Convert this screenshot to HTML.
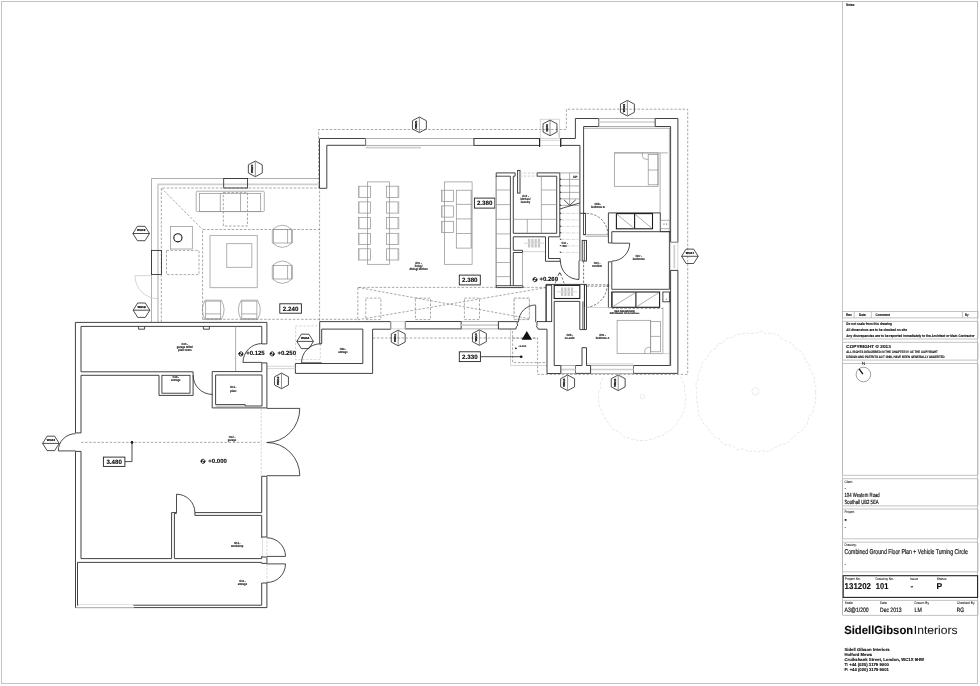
<!DOCTYPE html>
<html lang="en"><head><meta charset="utf-8"><title>Combined Ground Floor Plan + Vehicle Turning Circle</title>
<style>
html,body{margin:0;padding:0;background:#fff}
body{width:980px;height:686px;overflow:hidden;font-family:"Liberation Sans",Arial,sans-serif}
svg{display:block;will-change:transform;text-rendering:geometricPrecision;font-family:"Liberation Sans",Arial,sans-serif}
.fr{fill:none;stroke:#c2c2c2;stroke-width:1}
.tl{fill:none;stroke:#b4b4b4;stroke-width:.8}
.bk{fill:none;stroke:#222;stroke-width:1.1}
.nc{fill:none;stroke:#444;stroke-width:.5}
.na{stroke:#111;stroke-width:1.3}
.d{fill:none;stroke:#2c2c2c;stroke-width:.85}
.dk{fill:none;stroke:#1c1c1c;stroke-width:1.1}
.w{fill:#fff;stroke:#383838;stroke-width:.95;stroke-linejoin:miter}
.wcover{stroke:#fff;stroke-width:1.6}
.g{fill:none;stroke:#8e8e8e;stroke-width:.7}
.rug{fill:none;stroke:#b8b8b8;stroke-width:1.1}
.gm{fill:none;stroke:#707070;stroke-width:.8}
.gw{fill:#fff;stroke:#9c9c9c;stroke-width:.65}
.l{fill:none;stroke:#c0c0c0;stroke-width:.65}
.lt{fill:none;stroke:#cfcfcf;stroke-width:1.7}
.hatch2{stroke:#b0b0b0;stroke-width:1.5;stroke-dasharray:.5 .5}
.drn{fill:#c6c6c6;stroke:none}
.wcover2{stroke:#e8e8e8;stroke-width:.8}
.hatch{stroke:#c4c4c4;stroke-width:1.3}
.ds{fill:none;stroke:#6e6e6e;stroke-width:.6;stroke-dasharray:2.5 1.6}
.dsk{fill:none;stroke:#444;stroke-width:.7;stroke-dasharray:2.4 1.5}
.dsl{fill:none;stroke:#b5b5b5;stroke-width:.55;stroke-dasharray:2.4 1.5}
.dsl3{fill:none;stroke:#b8b8b8;stroke-width:.6;stroke-dasharray:3 .8 .8 .8}
.dsl2{fill:none;stroke:#c4c4c4;stroke-width:.9;stroke-dasharray:2.4 1.5}
.tree{fill:none;stroke:#dedede;stroke-width:.7;stroke-dasharray:3 1.6}
.treec{fill:none;stroke:#dedede;stroke-width:.6}
.hx{fill:none;stroke:#222;stroke-width:.8}
line.hx{fill:none}
.hm{stroke:#666;stroke-width:.7}
.lb{fill:#fff;stroke:#222;stroke-width:.9}
.fk{fill:#111;stroke:none}
.t{fill:#1a1a1a;stroke:#1a1a1a;stroke-width:.06}
.ts{fill:#111;stroke:#111;stroke-width:.18}
.tb{fill:#0a0a0a;font-weight:bold;stroke:#0a0a0a;stroke-width:.1}
.tr{fill:#111;font-weight:bold;stroke:#111;stroke-width:.12}
.th{fill:#000;font-weight:bold;stroke:#000;stroke-width:.2}
</style></head>
<body>
<svg width="980" height="686" viewBox="0 0 980 686">
<rect x="0" y="0" width="980" height="686" fill="#fff"/>
<rect class="fr" x="1.5" y="1.5" width="976" height="682"/>
<line class="tl" x1="842.5" y1="1.5" x2="842.5" y2="615.4"/>
<text class="tb" x="846.3" y="5.7" font-size="3.5" text-anchor="start" textLength="8.6" lengthAdjust="spacingAndGlyphs">Notes:</text>
<rect class="tl" x="842.5" y="311.4" width="135.5" height="6.5"/>
<line class="tl" x1="854.2" y1="311.4" x2="854.2" y2="317.9"/>
<line class="tl" x1="871.3" y1="311.4" x2="871.3" y2="317.9"/>
<line class="tl" x1="962.4" y1="311.4" x2="962.4" y2="317.9"/>
<text class="tb" x="846" y="315.9" font-size="3.5" text-anchor="start" textLength="5.9" lengthAdjust="spacingAndGlyphs">Rev</text>
<text class="tb" x="859.1" y="315.9" font-size="3.5" text-anchor="start" textLength="6.7" lengthAdjust="spacingAndGlyphs">Date</text>
<text class="tb" x="875.6" y="315.9" font-size="3.5" text-anchor="start" textLength="14.4" lengthAdjust="spacingAndGlyphs">Comment</text>
<text class="tb" x="965" y="315.9" font-size="3.5" text-anchor="start" textLength="3.6" lengthAdjust="spacingAndGlyphs">By</text>
<rect class="tl" x="842.5" y="321.4" width="135.5" height="17.6" rx="1"/>
<text class="tb" x="846.3" y="325" font-size="3.6" text-anchor="start" textLength="45.6" lengthAdjust="spacingAndGlyphs">Do not scale from this drawing</text>
<text class="tb" x="846.3" y="330.8" font-size="3.6" text-anchor="start" textLength="60.6" lengthAdjust="spacingAndGlyphs">All dimensions are to be checked on site</text>
<text class="tb" x="846.3" y="336.6" font-size="3.6" text-anchor="start" textLength="128.3" lengthAdjust="spacingAndGlyphs">Any discrepancies are to be reported immediately to the Architect or  Main Contractor</text>
<rect class="tl" x="842.5" y="342.3" width="135.5" height="17.8" rx="1"/>
<text class="tb" x="846.3" y="348.2" font-size="4.3" text-anchor="start" textLength="44.5" lengthAdjust="spacingAndGlyphs">COPYRIGHT ©   2013</text>
<text class="tb" x="846.3" y="353.4" font-size="3.4" text-anchor="start" textLength="91.5" lengthAdjust="spacingAndGlyphs">ALL RIGHTS DESCRIBED IN THE CHAPTER IV OF THE COPYRIGHT</text>
<text class="tb" x="846.3" y="357.7" font-size="3.4" text-anchor="start" textLength="98.4" lengthAdjust="spacingAndGlyphs">DESIGN AND PATENTS ACT 1988, HAVE BEEN GENERALLY ASSERTED</text>
<rect class="tl" x="842.5" y="363.5" width="135.5" height="111.8" rx="1"/>
<text class="t" x="863.4" y="365" font-size="4.8" text-anchor="middle">N</text>
<circle class="nc" cx="863.4" cy="374.5" r="7.3"/>
<line class="na" x1="859.1" y1="368.8" x2="862.9" y2="374.2"/>
<rect class="tl" x="842.5" y="478.7" width="135.5" height="27.2" rx="1"/>
<text class="t" x="844.5" y="482.7" font-size="3.5" text-anchor="start" textLength="8.4" lengthAdjust="spacingAndGlyphs">Client:</text>
<text class="ts" x="844.5" y="490.2" font-size="5" text-anchor="start">-</text>
<text class="ts" x="844.5" y="497.3" font-size="6" text-anchor="start" textLength="35.2" lengthAdjust="spacingAndGlyphs">104 Western Road</text>
<text class="ts" x="844.5" y="503.8" font-size="6" text-anchor="start" textLength="34.2" lengthAdjust="spacingAndGlyphs">Southall UB2 5EA</text>
<rect class="tl" x="842.5" y="509" width="135.5" height="29.8" rx="1"/>
<text class="t" x="844.5" y="512.9" font-size="3.5" text-anchor="start" textLength="10.3" lengthAdjust="spacingAndGlyphs">Project:</text>
<text class="t" x="844.5" y="521.3" font-size="3.6" text-anchor="start">■</text>
<text class="ts" x="844.5" y="529" font-size="5" text-anchor="start">-</text>
<rect class="tl" x="842.5" y="542.2" width="135.5" height="29.6" rx="1"/>
<text class="t" x="844.5" y="546.3" font-size="3.5" text-anchor="start" textLength="12.2" lengthAdjust="spacingAndGlyphs">Drawing:</text>
<text class="ts" x="844.5" y="554.2" font-size="7" text-anchor="start" textLength="123.3" lengthAdjust="spacingAndGlyphs">Combined Ground Floor Plan + Vehicle Turning Circle</text>
<text class="ts" x="844.5" y="566.4" font-size="5" text-anchor="start">-</text>
<rect class="bk" x="843.2" y="575.7" width="134.4" height="21.7"/>
<text class="t" x="844.8" y="579.5" font-size="3.5" text-anchor="start" textLength="15.8" lengthAdjust="spacingAndGlyphs">Project No.</text>
<text class="t" x="875.5" y="579.5" font-size="3.5" text-anchor="start" textLength="18.4" lengthAdjust="spacingAndGlyphs">Drawing No.</text>
<text class="t" x="910" y="579.5" font-size="3.5" text-anchor="start" textLength="8" lengthAdjust="spacingAndGlyphs">Issue</text>
<text class="t" x="936.8" y="579.5" font-size="3.5" text-anchor="start" textLength="9.8" lengthAdjust="spacingAndGlyphs">Status</text>
<text class="tb" x="844.6" y="588.9" font-size="8.5" text-anchor="start" textLength="26.4" lengthAdjust="spacingAndGlyphs">131202</text>
<text class="tb" x="875.8" y="588.9" font-size="8.5" text-anchor="start" textLength="12.5" lengthAdjust="spacingAndGlyphs">101</text>
<text class="tb" x="910.6" y="588.9" font-size="8.5" text-anchor="start">-</text>
<text class="tb" x="936.6" y="588.9" font-size="8.5" text-anchor="start">P</text>
<rect class="tl" x="842.5" y="600.4" width="135.5" height="15" rx="1"/>
<text class="t" x="844.8" y="604.4" font-size="3.5" text-anchor="start" textLength="8.1" lengthAdjust="spacingAndGlyphs">Scale</text>
<text class="t" x="880" y="604.4" font-size="3.5" text-anchor="start" textLength="6.9" lengthAdjust="spacingAndGlyphs">Date</text>
<text class="t" x="914.6" y="604.4" font-size="3.5" text-anchor="start" textLength="14.5" lengthAdjust="spacingAndGlyphs">Drawn By</text>
<text class="t" x="956.7" y="604.4" font-size="3.5" text-anchor="start" textLength="17.9" lengthAdjust="spacingAndGlyphs">Checked By</text>
<text class="ts" x="844.5" y="611.6" font-size="6.3" text-anchor="start" textLength="24.2" lengthAdjust="spacingAndGlyphs">A3@1/200</text>
<text class="ts" x="880" y="611.6" font-size="6.3" text-anchor="start" textLength="21.6" lengthAdjust="spacingAndGlyphs">Dec 2013</text>
<text class="ts" x="914.6" y="611.6" font-size="6.3" text-anchor="start" textLength="7.2" lengthAdjust="spacingAndGlyphs">LM</text>
<text class="ts" x="956.7" y="611.6" font-size="6.3" text-anchor="start" textLength="7.2" lengthAdjust="spacingAndGlyphs">RG</text>
<text class="tb" x="844.2" y="634.3" font-size="11.7" textLength="69" lengthAdjust="spacingAndGlyphs">SidellGibson</text>
<text class="t" x="913.8" y="634.3" font-size="11.7" textLength="43.7" lengthAdjust="spacingAndGlyphs">Interiors</text>
<text class="tb" x="844.5" y="650.8" font-size="4.25" text-anchor="start" textLength="45.2" lengthAdjust="spacingAndGlyphs">Sidell Gibson Interiors</text>
<text class="tb" x="844.5" y="655.9" font-size="4.25" text-anchor="start" textLength="27.5" lengthAdjust="spacingAndGlyphs">Holford Mews</text>
<text class="tb" x="844.5" y="661" font-size="4.25" text-anchor="start" textLength="79.6" lengthAdjust="spacingAndGlyphs">Cruikshank Street, London, WC1X 9HW</text>
<text class="tb" x="844.5" y="666.1" font-size="4.25" text-anchor="start" textLength="44.4" lengthAdjust="spacingAndGlyphs">T: +44 (020) 3179 9000</text>
<text class="tb" x="844.5" y="671.2" font-size="4.25" text-anchor="start" textLength="44.4" lengthAdjust="spacingAndGlyphs">F: +44 (020) 3179 9001</text>
<polyline class="tree" points="680.27,376.72 682.13,379.16 682.94,382.08 684.31,384.81 685.09,387.75 684.53,390.89 684.74,393.85 686.45,396.8 685.22,399.79 684.86,402.75 685.79,406 684.06,408.72 683.8,411.83 682.01,414.39 680.96,417.25 678.63,419.38 677.74,422.4 676.21,425.09 673.67,426.9 671.78,429.32 669.36,431.18 666.23,431.98 664.4,434.73 661.56,435.87 658.57,436.58 655.59,437.1 653.15,439.5 650.01,439.38 647.07,440.28 644.04,440.8 640.97,440.48 637.89,440.67 635.02,439.23 631.88,439.38 629.16,437.87 625.96,437.73 623.2,436.38 621.25,433.61 618.69,432.1 616.19,430.48 612.92,429.65 611.45,426.79 609.15,424.79 607.79,422.02 605.77,419.75 604.47,417.02 603.22,414.29 601.66,411.66 600.73,408.78 599.38,405.96 599.28,402.87 598.48,399.88 598.51,396.8 598.36,393.71 599.3,390.73 600.8,387.94 600.21,384.67 600.97,381.68 602.23,378.87 604.16,376.41"/>
<circle class="treec" cx="642.5" cy="396.4" r="2.3"/>
<polyline class="tree" points="815.58,391.9 815.76,396.12 815.46,400.34 815.11,404.59 813.55,408.58 812.71,412.76 808.91,415.73 808.16,419.95 807.17,424.25 804.15,427.32 802.08,431.07 797.7,432.75 795.39,436.32 791.83,438.52 788.93,441.62 785.42,443.9 781.06,444.51 777.53,446.68 773.71,448.25 770.15,451.06 765.92,451.55 761.56,450.51 757.52,452.52 753.35,450.74 749.11,451.74 745.18,449.85 741.25,448.67 736.6,449.77 733.27,446.66 729.5,445 724.82,444.86 721.37,442.35 718.9,438.61 714.52,437.3 712.27,433.55 709.18,430.68 707.63,426.61 703.63,424.25 702.1,420.24 699.57,416.76 698.16,412.73 698.39,408.25 697.22,404.27 697.03,400.1 696.65,396.01 696.72,391.9 696.23,387.76 695.86,383.53 698.17,379.74 697.41,375.27 699.57,371.58 701.19,367.77 701.8,363.4 704.69,360.21 707.38,357.01 709.59,353.46 711.95,349.94 716.15,348.31 717.76,343.73 722.65,343.35 725.14,339.48 728.76,337.27 733.47,337.61 736.67,334.24 741.01,334.18 744.97,332.75 749.28,333.7 753.35,333.31 757.46,332.95 761.78,331.16 765.65,333.77 770.05,333.16 774.25,333.88 778.27,335.3 781.45,338.48 785.13,340.41 788.9,342.23 792.71,344.15 794.74,348.21 798.93,349.86 801.86,352.91 804.61,356.15 805.09,360.85 809.31,363.24 809.07,368.01 811.24,371.58 813.22,375.32 815.05,379.22 814.24,383.63 816.25,387.65 815.37,391.9"/>
<circle class="treec" cx="755.5" cy="391.3" r="3.6"/>
<polyline class="ds" points="318.6,188 318.6,129.5 566.4,129.5 566.4,109.2 687.7,109.2 687.7,374.4 537.6,374.4 537.6,338 372.4,338"/>
<polyline class="ds" points="161.3,322 161.3,188 319.6,188 319.6,322"/>
<line class="ds" x1="202.6" y1="319.3" x2="357.8" y2="319.3"/>
<line class="ds" x1="161.3" y1="188" x2="202.6" y2="229.5"/>
<polyline class="ds" points="202.6,319.3 202.6,229.5 319.6,229.5"/>
<rect class="ds" x="223.3" y="192.4" width="24.2" height="33.6"/>
<rect class="ds" x="166.5" y="250.4" width="32.5" height="24.2"/>
<polyline class="ds" points="546,287.4 357.8,287.4 357.8,320.5"/>
<line class="ds" x1="357.8" y1="287.4" x2="529" y2="318.6"/>
<line class="ds" x1="357.8" y1="319.8" x2="546" y2="287.6"/>
<rect class="ds" x="365.8" y="298.1" width="15.1" height="21.5"/>
<rect class="ds" x="415.4" y="298.1" width="15.1" height="21.5"/>
<rect class="ds" x="464.4" y="298.1" width="15.1" height="21.5"/>
<rect class="ds" x="514.2" y="298.1" width="15.1" height="21.5"/>
<rect class="dsl" x="295.6" y="325.9" width="24.7" height="33.7"/>
<rect class="dsl" x="513.7" y="298.4" width="15.9" height="20.8"/>
<polyline class="l" points="510.5,329.6 510.5,365.5 547,365.5"/>
<polyline class="ds" points="512.6,331 512.6,362.6 547,362.6"/>
<polyline class="ds" points="512.6,338.1 537.6,338.1"/>
<polyline class="g" points="151.5,322.4 151.5,178.5 319.5,178.5"/>
<polyline class="lt" points="158,322.4 158,184.3 319.5,184.3"/>
<rect class="d" x="223.7" y="178.5" width="23.9" height="9.5"/>
<rect class="d" x="151.5" y="250.4" width="10" height="24.1"/>
<line class="l" x1="135" y1="275.7" x2="151.5" y2="275.7"/>
<path class="l" d="M135 275.7A23 23 0 0 0 158 298.7"/>
<rect class="g" x="196.2" y="191.2" width="68.1" height="20.4" rx="1"/>
<rect class="g" x="199.5" y="193.4" width="61.2" height="18.2"/>
<line class="g" x1="220.3" y1="193.4" x2="220.3" y2="211.6"/>
<line class="g" x1="240.5" y1="193.4" x2="240.5" y2="211.6"/>
<rect class="g" x="170.5" y="226.6" width="21.8" height="22.4"/>
<circle class="dk" cx="177.9" cy="237.8" r="4.1"/>
<rect class="rug" x="210" y="235.5" width="47.3" height="52.1"/>
<rect class="rug" x="226.7" y="243.6" width="25.1" height="23.8"/>
<path class="g" d="M272.3 242.8L272.3 229.8Q282.35 220.6 292.4 229.8L292.4 242.8Q282.35 252 272.3 242.8Z"/>
<rect class="g" x="273.3" y="229.6" width="14.4" height="13.4"/>
<line class="g" x1="291.5" y1="229.6" x2="291.5" y2="243"/>
<line class="g" x1="287.7" y1="229.6" x2="291.5" y2="229.6"/>
<line class="g" x1="287.7" y1="243" x2="291.5" y2="243"/>
<path class="g" d="M272.3 278.8L272.3 265.6Q282.35 256.4 292.4 265.6L292.4 278.8Q282.35 288 272.3 278.8Z"/>
<rect class="g" x="273.3" y="265.4" width="14.4" height="13.6"/>
<line class="g" x1="291.5" y1="265.4" x2="291.5" y2="279"/>
<line class="g" x1="287.7" y1="265.4" x2="291.5" y2="265.4"/>
<line class="g" x1="287.7" y1="279" x2="291.5" y2="279"/>
<path class="g" d="M205.1 300.2L221.3 300.2Q226.9 309.9 221.3 319.6L205.1 319.6Q199.5 309.9 205.1 300.2Z"/>
<rect class="g" x="205.7" y="301.1" width="15" height="17.6"/>
<line class="g" x1="205.7" y1="313.9" x2="220.7" y2="313.9"/>
<path class="g" d="M241.2 300.2L257.5 300.2Q263.1 309.9 257.5 319.6L241.2 319.6Q235.6 309.9 241.2 300.2Z"/>
<rect class="g" x="241.8" y="301.1" width="15.1" height="17.6"/>
<line class="g" x1="241.8" y1="313.9" x2="256.9" y2="313.9"/>
<rect class="lb" x="279.8" y="303.8" width="21.6" height="9.4"/>
<text class="tb" x="290.6" y="310.73" font-size="6.2" text-anchor="middle">2.240</text>
<polygon class="hx" points="132.9,233.5 137.4,226.3 145,226.3 149.5,233.5 145,240.7 137.4,240.7"/>
<line class="hx" x1="132.9" y1="233.5" x2="149.5" y2="233.5"/>
<text class="th" x="141.2" y="231.4" font-size="2.9" text-anchor="middle">WG19</text>
<polygon class="hx" points="133.2,310.2 137.7,303 145.3,303 149.8,310.2 145.3,317.4 137.7,317.4"/>
<line class="hx" x1="133.2" y1="310.2" x2="149.8" y2="310.2"/>
<text class="th" x="141.5" y="308.1" font-size="2.9" text-anchor="middle">WG18</text>
<polygon class="hx" points="255.3,161.1 262.25,164.8 262.25,173 255.3,176.7 248.35,173 248.35,164.8"/>
<line class="hm" x1="255.3" y1="161.5" x2="255.3" y2="176.3"/>
<text class="th" x="253.3" y="168.9" font-size="2.9" text-anchor="middle" transform="rotate(-90 253.2 168.9)">WG20</text>
<polygon class="w" points="319.5,138.5 365.6,138.5 365.6,145.3 326.8,145.3 326.8,188.3 319.5,188.3"/>
<rect class="g" x="365.6" y="138.5" width="108.4" height="6.8"/>
<line class="lt" x1="365.6" y1="147.6" x2="421" y2="147.6"/>
<rect class="w" x="474" y="138.5" width="65.6" height="6.9"/>
<polygon class="w" points="560.7,138.5 575.4,138.5 575.4,118.5 598.7,118.5 598.7,126.5 583.6,126.5 583.6,213.3 579.9,213.3 579.9,145.4 560.7,145.4"/>
<rect class="l" x="540.2" y="119.2" width="19.2" height="19.2"/>
<line class="l" x1="556.9" y1="127" x2="559.4" y2="138.4"/>
<rect class="l" x="539.6" y="140.2" width="21.1" height="5.1"/>
<line class="dk" x1="539.6" y1="138.4" x2="539.6" y2="147"/>
<line class="dk" x1="560.7" y1="138.4" x2="560.7" y2="147"/>
<rect class="g" x="598.7" y="118.5" width="56.5" height="8"/>
<line class="lt" x1="598.7" y1="122" x2="655.2" y2="122"/>
<line class="g" x1="583.6" y1="128.3" x2="670.5" y2="128.3"/>
<polygon class="w" points="655.2,118.5 677.9,118.5 677.9,242.3 670.6,242.3 670.6,126.5 655.2,126.5"/>
<line class="g" x1="669.4" y1="128.3" x2="669.4" y2="231.5"/>
<rect class="l" x="670.6" y="242.3" width="7.3" height="28.1"/>
<line class="lt" x1="674.3" y1="245" x2="674.3" y2="268"/>
<polygon class="w" points="670.6,270.4 677.9,270.4 677.9,373.4 633.5,373.4 633.5,365.5 670.6,365.5"/>
<line class="g" x1="669.4" y1="292" x2="669.4" y2="365.5"/>
<rect class="g" x="590.6" y="365.5" width="42.9" height="7.9"/>
<line class="lt" x1="590.6" y1="369.5" x2="633.5" y2="369.5"/>
<line class="l" x1="586.5" y1="363.8" x2="633.5" y2="363.8"/>
<polygon class="w" points="575.5,365.5 582,365.5 582,347.7 586.5,347.7 586.5,365.5 590.6,365.5 590.6,373.4 575.5,373.4"/>
<rect class="g" x="560.8" y="365.5" width="14.7" height="7.9"/>
<line class="lt" x1="560.8" y1="369.5" x2="575.5" y2="369.5"/>
<polygon class="w" points="537,321.6 546.1,321.6 546.1,284.4 586.5,284.4 586.5,329.6 579.8,329.6 579.8,301.4 554.2,301.4 554.2,365.5 560.8,365.5 560.8,373.5 547,373.5 547,329.2 538.2,329.2 537.6,327.5 536.4,326.8 537,325.4"/>
<rect class="d" x="546.1" y="285.2" width="5.6" height="36.4"/>
<rect class="dk" x="554.2" y="285.4" width="25.6" height="13.1"/>
<line class="d" x1="582.9" y1="301.4" x2="582.9" y2="329.6"/>
<line class="d" x1="584.5" y1="285" x2="584.5" y2="329.6"/>
<line class="l" x1="557" y1="291.8" x2="577" y2="291.8"/>
<rect class="drn" x="561" y="287.5" width="2.2" height="8.6"/>
<rect class="drn" x="564.3" y="287.5" width="2.2" height="8.6"/>
<rect class="drn" x="567.6" y="287.5" width="2.2" height="8.6"/>
<rect class="drn" x="570.9" y="287.5" width="2.2" height="8.6"/>
<line class="wcover2" x1="560.8" y1="291.8" x2="573.4" y2="291.8"/>
<line class="l" x1="524" y1="243.2" x2="544" y2="243.2"/>
<rect class="drn" x="528" y="238.9" width="2.2" height="8.6"/>
<rect class="drn" x="531.3" y="238.9" width="2.2" height="8.6"/>
<rect class="drn" x="534.6" y="238.9" width="2.2" height="8.6"/>
<rect class="drn" x="537.9" y="238.9" width="2.2" height="8.6"/>
<line class="wcover2" x1="527.8" y1="243.2" x2="540.4" y2="243.2"/>
<line class="l" x1="522.9" y1="251.6" x2="545.5" y2="251.6"/>
<rect class="w" x="405.3" y="321.5" width="55.9" height="7.4"/>
<rect class="g" x="461.2" y="321.6" width="37.2" height="7.3"/>
<line class="lt" x1="461.2" y1="325.2" x2="498.4" y2="325.2"/>
<polygon class="w" points="498.4,321.6 517.6,321.6 516.9,323.8 518,325 516.5,326.6 515.8,329 498.4,329"/>
<line class="d" x1="535.7" y1="305.3" x2="535.7" y2="322.2"/>
<path class="d" d="M535.7 305A17.2 17.2 0 0 0 518.5 322.2"/>
<polygon class="w" points="319.7,321.6 390.7,321.6 390.7,329.2 372.6,329.2 372.6,373.4 295.4,373.4 295.4,363.5 362.8,363.5 362.8,329.1 321.7,329.1 321.7,343.8 319.7,343.8"/>
<text class="tr" font-size="3" text-anchor="middle" transform="translate(342.9 349.6) scale(.87 1)">G04 -</text>
<text class="tr" font-size="3" text-anchor="middle" transform="translate(342.9 352.8) scale(.87 1)">storage</text>
<rect class="l" x="390.8" y="321.6" width="14.5" height="7.3"/>
<line class="d" x1="301.5" y1="362.8" x2="321.7" y2="362.8"/>
<path class="d" d="M301.5 362.8A19 19 0 0 1 320.5 343.8"/>
<line class="l" x1="267.1" y1="366.3" x2="295.6" y2="366.3"/>
<line class="l" x1="267.1" y1="368.6" x2="295.6" y2="368.6"/>
<polygon class="hx" points="296.8,341.4 301.3,334.2 308.9,334.2 313.4,341.4 308.9,348.6 301.3,348.6"/>
<line class="hx" x1="296.8" y1="341.4" x2="313.4" y2="341.4"/>
<text class="th" x="305.1" y="339.3" font-size="2.9" text-anchor="middle">WG14</text>
<polygon class="hx" points="281.5,373.1 288.45,376.8 288.45,385 281.5,388.7 274.55,385 274.55,376.8"/>
<line class="hm" x1="281.5" y1="373.5" x2="281.5" y2="388.3"/>
<text class="th" x="279.5" y="380.9" font-size="2.9" text-anchor="middle" transform="rotate(-90 279.4 380.9)">WG13</text>
<polygon class="hx" points="398.2,330.2 405.15,333.9 405.15,342.1 398.2,345.8 391.25,342.1 391.25,333.9"/>
<line class="hm" x1="398.2" y1="330.6" x2="398.2" y2="345.4"/>
<text class="th" x="396.2" y="338" font-size="2.9" text-anchor="middle" transform="rotate(-90 396.1 338)">WG11</text>
<polygon class="hx" points="479.4,329.8 486.35,333.5 486.35,341.7 479.4,345.4 472.45,341.7 472.45,333.5"/>
<line class="hm" x1="479.4" y1="330.2" x2="479.4" y2="345"/>
<text class="th" x="477.4" y="337.6" font-size="2.9" text-anchor="middle" transform="rotate(-90 477.3 337.6)">WG10</text>
<polygon class="hx" points="419.4,117 426.35,120.7 426.35,128.9 419.4,132.6 412.45,128.9 412.45,120.7"/>
<line class="hm" x1="419.4" y1="117.4" x2="419.4" y2="132.2"/>
<text class="th" x="417.4" y="124.8" font-size="2.9" text-anchor="middle" transform="rotate(-90 417.3 124.8)">WG21</text>
<polygon class="hx" points="550,120.1 556.95,123.8 556.95,132 550,135.7 543.05,132 543.05,123.8"/>
<line class="hm" x1="550" y1="120.5" x2="550" y2="135.3"/>
<text class="th" x="548" y="127.9" font-size="2.9" text-anchor="middle" transform="rotate(-90 547.9 127.9)">DG03</text>
<polygon class="hx" points="627.4,100.4 634.35,104.1 634.35,112.3 627.4,116 620.45,112.3 620.45,104.1"/>
<line class="hm" x1="627.4" y1="100.8" x2="627.4" y2="115.6"/>
<text class="th" x="625.4" y="108.2" font-size="2.9" text-anchor="middle" transform="rotate(-90 625.3 108.2)">WG22</text>
<polygon class="hx" points="681.6,256.3 686.1,249.1 693.7,249.1 698.2,256.3 693.7,263.5 686.1,263.5"/>
<line class="hx" x1="681.6" y1="256.3" x2="698.2" y2="256.3"/>
<text class="th" x="689.9" y="254.2" font-size="2.9" text-anchor="middle">WG17</text>
<polygon class="hx" points="618.2,375 625.15,378.7 625.15,386.9 618.2,390.6 611.25,386.9 611.25,378.7"/>
<line class="hm" x1="618.2" y1="375.4" x2="618.2" y2="390.2"/>
<text class="th" x="616.2" y="382.8" font-size="2.9" text-anchor="middle" transform="rotate(-90 616.1 382.8)">WG16</text>
<polygon class="hx" points="567.6,375 574.55,378.7 574.55,386.9 567.6,390.6 560.65,386.9 560.65,378.7"/>
<line class="hm" x1="567.6" y1="375.4" x2="567.6" y2="390.2"/>
<text class="th" x="565.6" y="382.8" font-size="2.9" text-anchor="middle" transform="rotate(-90 565.5 382.8)">WG15</text>
<rect class="lb" x="474.4" y="198.1" width="20.5" height="10"/>
<text class="tb" x="484.65" y="205.33" font-size="6.2" text-anchor="middle">2.380</text>
<rect class="lb" x="459.3" y="275.1" width="21" height="9.8"/>
<text class="tb" x="469.8" y="282.23" font-size="6.2" text-anchor="middle">2.380</text>
<rect class="lb" x="459.3" y="351.8" width="21.1" height="9.8"/>
<text class="tb" x="469.85" y="358.93" font-size="6.2" text-anchor="middle">2.330</text>
<line class="d" x1="480.4" y1="356.7" x2="521.2" y2="356.7"/>
<circle class="fk" cx="521.2" cy="356.7" r="1.3"/>
<circle class="fk" cx="515.9" cy="348.3" r="0.9"/>
<text class="tb" x="518.2" y="346.8" font-size="2.6" text-anchor="start">+0.150</text>
<path class="fk" d="M526.8 331L521.6 339.7L532 339.7Z"/>
<rect class="g" x="367.4" y="181.9" width="22.1" height="82.4"/>
<rect class="g" x="358.4" y="186.2" width="12" height="11.2"/>
<line class="hatch2" x1="359.3" y1="186.2" x2="359.3" y2="197.4"/>
<rect class="g" x="386.5" y="186.2" width="12.3" height="11.2"/>
<line class="hatch2" x1="397.9" y1="186.2" x2="397.9" y2="197.4"/>
<rect class="g" x="358.4" y="201.9" width="12" height="11.2"/>
<line class="hatch2" x1="359.3" y1="201.9" x2="359.3" y2="213.1"/>
<rect class="g" x="386.5" y="201.9" width="12.3" height="11.2"/>
<line class="hatch2" x1="397.9" y1="201.9" x2="397.9" y2="213.1"/>
<rect class="g" x="358.4" y="217.6" width="12" height="11.2"/>
<line class="hatch2" x1="359.3" y1="217.6" x2="359.3" y2="228.8"/>
<rect class="g" x="386.5" y="217.6" width="12.3" height="11.2"/>
<line class="hatch2" x1="397.9" y1="217.6" x2="397.9" y2="228.8"/>
<rect class="g" x="358.4" y="233.3" width="12" height="11.2"/>
<line class="hatch2" x1="359.3" y1="233.3" x2="359.3" y2="244.5"/>
<rect class="g" x="386.5" y="233.3" width="12.3" height="11.2"/>
<line class="hatch2" x1="397.9" y1="233.3" x2="397.9" y2="244.5"/>
<rect class="g" x="358.4" y="248.8" width="12" height="11.2"/>
<line class="hatch2" x1="359.3" y1="248.8" x2="359.3" y2="260"/>
<rect class="g" x="386.5" y="248.8" width="12.3" height="11.2"/>
<line class="hatch2" x1="397.9" y1="248.8" x2="397.9" y2="260"/>
<rect class="g" x="444.4" y="181.9" width="27.7" height="82.4"/>
<rect class="g" x="441.5" y="190.2" width="12" height="11.2"/>
<line class="hatch2" x1="442.4" y1="190.2" x2="442.4" y2="201.4"/>
<rect class="g" x="441.5" y="205.9" width="12" height="11.2"/>
<line class="hatch2" x1="442.4" y1="205.9" x2="442.4" y2="217.1"/>
<rect class="g" x="441.5" y="221.3" width="12" height="11.2"/>
<line class="hatch2" x1="442.4" y1="221.3" x2="442.4" y2="232.5"/>
<rect class="g" x="456.3" y="190.2" width="15" height="57.9"/>
<line class="hatch2" x1="471.1" y1="190.2" x2="471.1" y2="248.1"/>
<line class="g" x1="456.3" y1="204.4" x2="471.3" y2="204.4"/>
<line class="g" x1="456.3" y1="218.9" x2="471.3" y2="218.9"/>
<line class="g" x1="456.3" y1="233.5" x2="471.3" y2="233.5"/>
<text class="tr" font-size="3" text-anchor="middle" transform="translate(418.6 264) scale(.87 1)">G01 -</text>
<text class="tr" font-size="3" text-anchor="middle" transform="translate(418.6 267.2) scale(.87 1)">living/</text>
<text class="tr" font-size="3" text-anchor="middle" transform="translate(418.6 270.4) scale(.87 1)">dining/ kitchen</text>
<polygon class="w" points="496.2,172.9 515.1,172.9 515.1,176.2 513.3,176.2 513.3,233.3 556.7,233.3 556.7,176.2 537.1,176.2 537.1,172.9 559.8,172.9 559.8,236.8 548.5,236.8 548.5,258.5 560.2,258.5 560.2,261.3 545.5,261.3 545.5,236.8 513.3,236.8 513.3,250.3 522.5,250.3 522.5,252.5 513.3,252.5 513.3,285.7 522.9,285.7 522.9,287.6 496.2,287.6"/>
<line class="wcover" x1="496.2" y1="177" x2="496.2" y2="285"/>
<line class="gm" x1="496.2" y1="176.2" x2="496.2" y2="285.7"/>
<line class="d" x1="510.4" y1="176.2" x2="510.4" y2="285.7"/>
<line class="d" x1="496.2" y1="176.2" x2="510.4" y2="176.2"/>
<line class="d" x1="496.2" y1="285.7" x2="513.3" y2="285.7"/>
<line class="g" x1="496.2" y1="190" x2="510.4" y2="190"/>
<line class="g" x1="496.2" y1="204.6" x2="510.4" y2="204.6"/>
<line class="g" x1="496.2" y1="219.3" x2="510.4" y2="219.3"/>
<line class="g" x1="496.2" y1="233.9" x2="510.4" y2="233.9"/>
<line class="g" x1="496.2" y1="248.4" x2="510.4" y2="248.4"/>
<line class="g" x1="496.2" y1="262.5" x2="510.4" y2="262.5"/>
<line class="g" x1="496.2" y1="276.6" x2="510.4" y2="276.6"/>
<line class="g" x1="522.5" y1="252.5" x2="522.5" y2="285.7"/>
<rect class="w" x="517.6" y="170.4" width="2.4" height="22.7"/>
<line class="dsl2" x1="520" y1="173" x2="537.1" y2="173"/>
<line class="dsl2" x1="520" y1="176.1" x2="537.1" y2="176.1"/>
<line class="g" x1="541.4" y1="176.2" x2="541.4" y2="233.3"/>
<line class="g" x1="541.4" y1="190" x2="556.7" y2="190"/>
<line class="g" x1="541.4" y1="204.6" x2="556.7" y2="204.6"/>
<line class="g" x1="541.4" y1="219.3" x2="556.7" y2="219.3"/>
<line class="g" x1="513.3" y1="219.3" x2="541.4" y2="219.3"/>
<line class="g" x1="527.3" y1="219.3" x2="527.3" y2="233.3"/>
<text class="tr" font-size="3" text-anchor="middle" transform="translate(525.5 196.5) scale(.87 1)">G12 -</text>
<text class="tr" font-size="3" text-anchor="middle" transform="translate(525.5 199.7) scale(.87 1)">kitchen/</text>
<text class="tr" font-size="3" text-anchor="middle" transform="translate(525.5 202.9) scale(.87 1)">laundry</text>
<line class="g" x1="559.8" y1="172.9" x2="579.9" y2="172.9"/>
<line class="g" x1="559.8" y1="179.4" x2="579.9" y2="179.4"/>
<line class="g" x1="559.8" y1="185.9" x2="579.9" y2="185.9"/>
<line class="g" x1="559.8" y1="192.4" x2="579.9" y2="192.4"/>
<line class="g" x1="559.8" y1="198.9" x2="579.9" y2="198.9"/>
<line class="g" x1="559.8" y1="205.4" x2="579.9" y2="205.4"/>
<line class="dsl3" x1="561" y1="213.4" x2="578.5" y2="213.4"/>
<line class="dsl3" x1="561" y1="219.9" x2="578.5" y2="219.9"/>
<line class="dsl3" x1="561" y1="226.4" x2="578.5" y2="226.4"/>
<line class="dsl3" x1="561" y1="232.9" x2="578.5" y2="232.9"/>
<line class="dsl3" x1="561" y1="239.4" x2="578.5" y2="239.4"/>
<line class="dsl3" x1="561" y1="245.9" x2="578.5" y2="245.9"/>
<line class="dsl3" x1="561" y1="252.4" x2="578.5" y2="252.4"/>
<line class="g" x1="569.6" y1="172.9" x2="569.6" y2="205.3"/>
<path class="fk" d="M559.9 178.3l1.6 1.1l-1.6 .3z"/>
<path class="fk" d="M559.9 184.8l1.6 1.1l-1.6 .3z"/>
<path class="fk" d="M559.9 191.3l1.6 1.1l-1.6 .3z"/>
<path class="fk" d="M559.9 197.8l1.6 1.1l-1.6 .3z"/>
<path class="fk" d="M559.9 204.3l1.6 1.1l-1.6 .3z"/>
<path class="fk" d="M559.9 212.3l1.6 1.1l-1.6 .3z"/>
<path class="fk" d="M559.9 218.8l1.6 1.1l-1.6 .3z"/>
<path class="fk" d="M559.9 225.3l1.6 1.1l-1.6 .3z"/>
<path class="fk" d="M559.9 231.8l1.6 1.1l-1.6 .3z"/>
<path class="fk" d="M559.9 238.3l1.6 1.1l-1.6 .3z"/>
<path class="fk" d="M559.9 244.8l1.6 1.1l-1.6 .3z"/>
<path class="fk" d="M559.9 251.3l1.6 1.1l-1.6 .3z"/>
<line class="d" x1="559.8" y1="209" x2="579.9" y2="202.9"/>
<polyline class="d" points="564.1,199.8 569.7,205.4 575.7,199.8"/>
<text class="tr" x="575.2" y="177.8" font-size="3.2" text-anchor="middle">UP</text>
<text class="tr" font-size="3" text-anchor="middle" transform="translate(564.6 243.6) scale(.87 1)">G11 -</text>
<text class="tr" font-size="3" text-anchor="middle" transform="translate(564.6 246.8) scale(.87 1)">WC</text>
<line class="d" x1="579" y1="260.6" x2="579" y2="279.4"/>
<path class="d" d="M560.4 260.9A18.6 18.6 0 0 0 579 279.5"/>
<rect class="w" x="582.2" y="240.4" width="4.3" height="20.6"/>
<line class="d" x1="584.3" y1="240.4" x2="584.3" y2="261"/>
<line class="d" x1="579.9" y1="213.3" x2="579.9" y2="261"/>
<line class="dsk" x1="583.6" y1="261" x2="583.6" y2="284.4"/>
<line class="dsk" x1="583.6" y1="284.9" x2="611" y2="284.9"/>
<line class="ds" x1="586.5" y1="286.4" x2="611" y2="286.4"/>
<g transform="rotate(-25 535 279.6)">
<circle class="hx" cx="535" cy="279.6" r="2.1"/>
<path class="fk" d="M535 279.6L535 277.5A2.1 2.1 0 0 0 532.9 279.6Z M535 279.6L535 281.7A2.1 2.1 0 0 0 537.1 279.6Z"/>
</g>
<text class="tb" x="539.5" y="280.8" font-size="6" text-anchor="start">+0.260</text>
<polyline class="d" points="558.6,274.6 559.7,272.6 560.8,274.6"/>
<line class="dsk" x1="560.6" y1="273.7" x2="564.3" y2="283.8"/>
<line class="dsk" x1="558.8" y1="273.7" x2="555.1" y2="283.8"/>
<rect class="g" x="614.4" y="152.9" width="43.6" height="33.4"/>
<rect class="g" x="648.2" y="154.4" width="9.8" height="30.4"/>
<line class="g" x1="648.2" y1="170" x2="658" y2="170"/>
<path class="g" d="M642.4 152.9L642.4 156.5Q643 159.4 648.2 159.4"/>
<polyline class="g" points="614.4,152.9 667.8,152.9"/>
<line class="g" x1="660.1" y1="152.9" x2="660.1" y2="212.9"/>
<text class="tr" font-size="3" text-anchor="middle" transform="translate(597.8 204.6) scale(.87 1)">G08 -</text>
<text class="tr" font-size="3" text-anchor="middle" transform="translate(597.8 207.8) scale(.87 1)">bedroom B</text>
<rect class="d" x="583.6" y="213.3" width="1.9" height="21.4"/>
<path class="dsk" d="M586.6 213.4A21.3 21.3 0 0 1 607.9 234.7"/>
<line class="g" x1="585.5" y1="234.7" x2="609" y2="234.7"/>
<line class="g" x1="585.5" y1="236.3" x2="609" y2="236.3"/>
<polygon class="w" points="608.4,212.9 660.3,212.9 660.3,231.6 670.6,231.6 670.6,231.7 611.8,231.7 611.8,242.9 608.4,242.9"/>
<rect class="dk" x="616.4" y="213.6" width="36.1" height="15.2"/>
<line class="dk" x1="634.6" y1="213.6" x2="634.6" y2="228.8"/>
<line class="g" x1="616.8" y1="214.2" x2="634" y2="228.4"/>
<line class="g" x1="635" y1="214.2" x2="652" y2="228.4"/>
<rect class="g" x="660.7" y="220.2" width="9.2" height="8.6"/>
<circle class="fk" cx="664" cy="224" r="0.5"/>
<circle class="fk" cx="666.6" cy="224" r="0.5"/>
<line class="d" x1="611.8" y1="243.2" x2="629.6" y2="243.2"/>
<path class="d" d="M629.7 243.2A17.9 17.9 0 0 1 611.8 261.1"/>
<polyline class="d" points="608.4,261.8 611.8,261.8 611.8,289.3 669.4,289.3"/>
<polyline class="d" points="608.4,261.8 608.4,307.6 611.8,307.6 611.8,292"/>
<line class="d" x1="669.4" y1="231.7" x2="669.4" y2="289.3"/>
<text class="tr" font-size="3" text-anchor="middle" transform="translate(638.8 256.6) scale(.87 1)">G07 -</text>
<text class="tr" font-size="3" text-anchor="middle" transform="translate(638.8 259.8) scale(.87 1)">bathroom</text>
<text class="tr" font-size="3" text-anchor="middle" transform="translate(597 263.7) scale(.87 1)">G10 -</text>
<text class="tr" font-size="3" text-anchor="middle" transform="translate(597 266.9) scale(.87 1)">corridor</text>
<rect class="dk" x="611.9" y="292" width="47.7" height="15.3"/>
<line class="dk" x1="635.9" y1="292" x2="635.9" y2="307.3"/>
<line class="g" x1="612.5" y1="306.8" x2="635.3" y2="292.6"/>
<line class="g" x1="636.5" y1="306.8" x2="659" y2="292.6"/>
<rect class="d" x="662.9" y="292" width="6.8" height="9.8"/>
<text class="t" x="666.3" y="300.4" font-size="2.6" text-anchor="middle">+</text>
<line class="ds" x1="612" y1="308.5" x2="662.9" y2="308.5"/>
<text class="tb" x="624.6" y="311.5" font-size="2.3" text-anchor="middle">F&amp;B DRAWDOWN/</text>
<text class="tb" x="624.6" y="314.1" font-size="2.3" text-anchor="middle">BECKMANN 2000x1800mm</text>
<rect class="g" x="617.1" y="320.3" width="33.6" height="33.3"/>
<rect class="g" x="650.7" y="321.6" width="9.7" height="30.2"/>
<line class="g" x1="650.7" y1="336.4" x2="660.4" y2="336.4"/>
<path class="g" d="M644.8 353.6L644.8 350.2Q645.6 347.2 650.7 347.2"/>
<polyline class="g" points="662.9,307.3 662.9,353.6 650.7,353.6"/>
<line class="l" x1="662.9" y1="353.6" x2="669.4" y2="353.6"/>
<text class="tr" font-size="3" text-anchor="middle" transform="translate(602.5 335.8) scale(.87 1)">G05 -</text>
<text class="tr" font-size="3" text-anchor="middle" transform="translate(602.5 339) scale(.87 1)">bedroom A</text>
<text class="tr" font-size="3" text-anchor="middle" transform="translate(569.8 335.8) scale(.87 1)">G06 -</text>
<text class="tr" font-size="3" text-anchor="middle" transform="translate(569.8 339) scale(.87 1)">en-suite</text>
<line class="d" x1="584.4" y1="284.7" x2="584.4" y2="307.5"/>
<path class="dsk" d="M607.2 284.7A22.8 22.8 0 0 1 584.4 307.5"/>
<line class="l" x1="586.5" y1="307.5" x2="611.8" y2="307.5"/>
<polygon class="w" points="75.4,322.4 266.9,322.4 266.9,343.9 261.8,343.9 261.8,326.4 81,326.4 81,371.8 193.1,371.8 193.1,395.4 159,395.4 159,375.3 81,375.3 81,432.9 75.5,432.9"/>
<rect class="d" x="161.9" y="375.3" width="28.1" height="17.9"/>
<polyline class="d" points="138.6,326.4 138.6,329.2 144.6,329.2 144.6,326.4"/>
<polyline class="d" points="203.4,326.4 203.4,329.2 209.4,329.2 209.4,326.4"/>
<line class="g" x1="235.6" y1="326.4" x2="235.6" y2="371.8"/>
<polygon class="w" points="212.2,371.6 261.8,371.6 261.8,362.9 266.9,362.9 266.9,407.9 212.2,407.9"/>
<polygon class="w" points="215.6,375 262,375 262,406 245.2,406 245.2,404.6 215.6,404.6"/>
<line class="g" x1="215.6" y1="406.2" x2="245.2" y2="406.2"/>
<line class="d" x1="242.8" y1="362.4" x2="261.8" y2="362.4"/>
<path class="d" d="M243 362.4A18.8 18.8 0 0 1 261.8 343.6"/>
<path class="d" d="M193.1 375.2A19.2 19.2 0 0 0 212.3 394.4"/>
<g transform="rotate(-25 240.9 353.9)">
<circle class="hx" cx="240.9" cy="353.9" r="2.1"/>
<path class="fk" d="M240.9 353.9L240.9 351.8A2.1 2.1 0 0 0 238.8 353.9Z M240.9 353.9L240.9 356A2.1 2.1 0 0 0 243 353.9Z"/>
</g>
<text class="tb" x="246.2" y="355.1" font-size="6" text-anchor="start">+0.125</text>
<g transform="rotate(-25 272.2 353.9)">
<circle class="hx" cx="272.2" cy="353.9" r="2.1"/>
<path class="fk" d="M272.2 353.9L272.2 351.8A2.1 2.1 0 0 0 270.1 353.9Z M272.2 353.9L272.2 356A2.1 2.1 0 0 0 274.3 353.9Z"/>
</g>
<text class="tb" x="277.5" y="355.1" font-size="6" text-anchor="start">+0.250</text>
<text class="tr" font-size="3" text-anchor="middle" transform="translate(184.8 345) scale(.87 1)">G15 -</text>
<text class="tr" font-size="3" text-anchor="middle" transform="translate(184.8 348.2) scale(.87 1)">garage toilet/</text>
<text class="tr" font-size="3" text-anchor="middle" transform="translate(184.8 351.4) scale(.87 1)">plant room</text>
<text class="tr" font-size="3" text-anchor="middle" transform="translate(175.8 378) scale(.87 1)">G16 -</text>
<text class="tr" font-size="3" text-anchor="middle" transform="translate(175.8 381.2) scale(.87 1)">storage</text>
<text class="tr" font-size="3" text-anchor="middle" transform="translate(233.2 388.4) scale(.87 1)">G13 -</text>
<text class="tr" font-size="3" text-anchor="middle" transform="translate(233.2 391.6) scale(.87 1)">plant</text>
<text class="tr" font-size="3" text-anchor="middle" transform="translate(232 438.2) scale(.87 1)">G12 -</text>
<text class="tr" font-size="3" text-anchor="middle" transform="translate(232 441.4) scale(.87 1)">garage</text>
<polygon class="w" points="75.5,451.4 81,451.4 81,558.6 171.6,558.6 171.6,512.6 176.4,512.6 176.4,513.4 174.4,513.4 174.4,558.6 261.7,558.6 261.7,515.4 194.9,515.4 194.9,512.6 261.7,512.6 261.7,476.3 266.9,476.3 266.9,537 261.7,537 261.7,557 266.9,557 266.9,563.4 261.7,563.4 261.7,562.4 77.5,562.4 77.5,605.2 133.7,605.2 261.7,605.2 261.7,583 266.9,583 266.9,607.6 75.5,607.6"/>
<line class="wcover" x1="78.2" y1="605.2" x2="133.3" y2="605.2"/>
<line class="wcover" x1="76" y1="607.6" x2="133.7" y2="607.6"/>
<line class="g" x1="76" y1="607.6" x2="133.7" y2="607.6"/>
<line class="wcover" x1="261.7" y1="537.7" x2="261.7" y2="556.3"/>
<line class="wcover" x1="261.7" y1="564.1" x2="261.7" y2="582.3"/>
<line class="d" x1="58.3" y1="450.9" x2="75.5" y2="450.9"/>
<path class="d" d="M58.3 450.9A17.2 17.2 0 0 1 75.5 433.7"/>
<polygon class="hx" points="42.6,443.4 47.1,436.2 54.7,436.2 59.2,443.4 54.7,450.6 47.1,450.6"/>
<line class="hx" x1="42.6" y1="443.4" x2="59.2" y2="443.4"/>
<text class="th" x="50.9" y="441.3" font-size="2.9" text-anchor="middle">WG12</text>
<line class="ds" x1="81" y1="442.4" x2="261.7" y2="442.4"/>
<line class="dsl" x1="261.2" y1="408.4" x2="261.2" y2="476.3"/>
<line class="dsl" x1="266.9" y1="537" x2="266.9" y2="583"/>
<circle class="fk" cx="132" cy="442.4" r="1.3"/>
<polyline class="d" points="132,442.4 132,461.6 124.9,461.6"/>
<rect class="lb" x="103.4" y="457.1" width="21.5" height="9.3"/>
<text class="tb" x="114.15" y="463.98" font-size="6.2" text-anchor="middle">3.480</text>
<g transform="rotate(-25 203 461.3)">
<circle class="hx" cx="203" cy="461.3" r="2.1"/>
<path class="fk" d="M203 461.3L203 459.2A2.1 2.1 0 0 0 200.9 461.3Z M203 461.3L203 463.4A2.1 2.1 0 0 0 205.1 461.3Z"/>
</g>
<text class="tb" x="208.3" y="462.5" font-size="6" text-anchor="start">+0.000</text>
<line class="d" x1="266.9" y1="408.4" x2="299.8" y2="408.4"/>
<path class="d" d="M299.8 408.4A33.1 34.1 0 0 1 266.7 442.5"/>
<line class="d" x1="266.9" y1="475.7" x2="299.8" y2="475.7"/>
<path class="d" d="M299.8 475.7A33.1 33.2 0 0 0 266.7 442.5"/>
<line class="d" x1="176.5" y1="494.2" x2="176.5" y2="512.6"/>
<path class="d" d="M176.5 494.2A18.4 18.4 0 0 1 194.9 512.6"/>
<line class="d" x1="266.9" y1="556.4" x2="285.4" y2="556.4"/>
<path class="d" d="M285.5 556.4A18.6 18.6 0 0 0 266.9 537.8"/>
<line class="d" x1="266.9" y1="563.9" x2="285.4" y2="563.9"/>
<path class="d" d="M285.5 563.9A18.6 18.6 0 0 1 266.9 582.5"/>
<text class="tr" font-size="3" text-anchor="middle" transform="translate(237.2 543.6) scale(.87 1)">G13 -</text>
<text class="tr" font-size="3" text-anchor="middle" transform="translate(237.2 546.8) scale(.87 1)">workshop</text>
<text class="tr" font-size="3" text-anchor="middle" transform="translate(242.4 582) scale(.87 1)">G14 -</text>
<text class="tr" font-size="3" text-anchor="middle" transform="translate(242.4 585.2) scale(.87 1)">storage</text>
</svg>
</body></html>
